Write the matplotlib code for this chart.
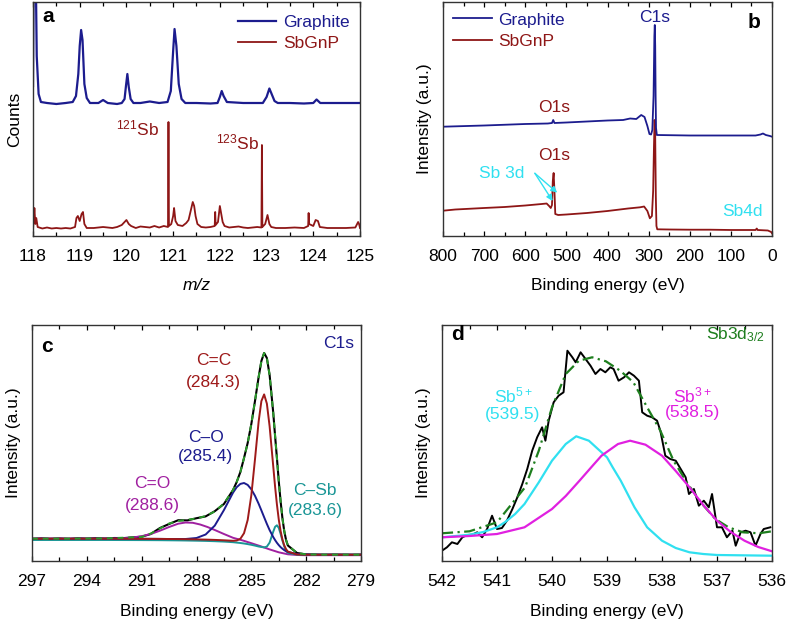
import numpy as np
import matplotlib
matplotlib.use('Agg')
import matplotlib.pyplot as plt
from matplotlib.ticker import MultipleLocator

plt.rcParams['font.family'] = ['Liberation Sans', 'DejaVu Sans']
plt.rcParams['mathtext.fontset'] = 'custom'
plt.rcParams['mathtext.rm'] = 'Liberation Sans'
plt.rcParams['mathtext.it'] = 'Liberation Sans:italic'
plt.rcParams['font.size'] = 12.5

NAVY = '#1c1c8e'
DRED = '#8e1616'
CYAN = '#30e0f0'
MAG = '#e020e0'
GREEN = '#1e7e1e'

# ---- panel a: mass spectra (m/z, counts in arbitrary px units)
graphite_mz = [118.0, 118.02, 118.05, 118.08, 118.12, 118.17, 118.3, 118.5, 118.7, 118.85,
               118.92, 118.97, 119.0, 119.03, 119.06, 119.1, 119.15, 119.22, 119.4, 119.5,
               119.6, 119.8, 119.9, 119.96, 119.99, 120.02, 120.05, 120.09, 120.15, 120.3,
               120.5, 120.7, 120.88, 120.95, 121.0, 121.03, 121.07, 121.12, 121.18, 121.26,
               121.5, 121.8, 121.95, 122.0, 122.04, 122.08, 122.15, 122.5, 122.92, 123.0,
               123.06, 123.1, 123.17, 123.24, 123.5, 123.8, 124.0, 124.07, 124.15, 124.5, 125.0]
graphite_counts = [150, 300, 300, 180, 142, 134, 133, 132, 133, 134,
                   140, 162, 190, 206, 196, 152, 138, 133, 133, 136,
                   133, 132, 133, 137, 150, 162, 149, 137, 133, 133,
                   134.5, 133, 134, 145, 185, 207, 190, 152, 137, 133,
                   133, 132.5, 133, 139, 145, 140, 134, 133, 133, 139,
                   147.5, 143, 135, 133, 133, 132.5, 133, 136.5, 133, 133, 133]
sbgnp_mz = [118.0, 118.02, 118.03, 118.05, 118.07, 118.1, 118.2, 118.3, 118.4, 118.5,
            118.6, 118.7, 118.8, 118.9, 118.93, 118.96, 119.0, 119.04, 119.07, 119.1,
            119.15, 119.3, 119.5, 119.7, 119.8, 119.9, 119.96, 120.0, 120.05, 120.1,
            120.2, 120.3, 120.4, 120.5, 120.6, 120.7, 120.8, 120.89, 120.9, 120.91,
            120.96, 121.0, 121.02, 121.05, 121.1, 121.2, 121.28, 121.33, 121.38, 121.42,
            121.45, 121.48, 121.52, 121.6, 121.7, 121.8, 121.89, 121.9, 121.91, 121.96,
            122.0, 122.03, 122.06, 122.1, 122.2, 122.3, 122.4, 122.5, 122.6, 122.7,
            122.8, 122.89, 122.9, 122.91, 122.97, 123.02, 123.06, 123.1, 123.2, 123.4,
            123.6, 123.8, 123.89, 123.9, 123.91, 124.0, 124.05, 124.1, 124.14, 124.3,
            124.5, 124.7, 124.9, 124.96, 124.98, 125.0]
sbgnp_counts = [6, 20, 28, 12, 18, 9, 7.5, 8.5, 7.5, 8,
                7.5, 8, 7.5, 9, 18, 20, 15, 22, 24, 12,
                8, 8, 9, 8, 9, 11, 14, 16, 12, 10,
                8, 9.5, 9, 8.5, 10, 8.5, 10, 9, 114, 10,
                12, 20, 28, 15, 11, 10, 13, 16, 26, 34,
                30, 20, 12, 9, 8.5, 9, 10, 24, 11, 14,
                30, 22, 14, 10, 8.5, 9, 9.5, 8.5, 8, 8.5,
                9, 8.5, 91, 9, 12, 21, 12, 9, 8, 8,
                8.5, 8, 10, 23, 12, 10, 16, 15, 9, 8,
                8, 8, 8.5, 14, 12, 8]

# ---- panel b: XPS survey
survey_g_be = [800, 700, 600, 545, 535, 532, 529, 500, 450, 400,
               362, 345, 330, 318, 310, 303, 298, 294, 291, 288,
               286, 285, 284, 283, 282, 280, 200, 100, 40, 28,
               22, 15, 5, 0]
survey_g_int = [109.3, 110.5, 112, 112.5, 113, 116, 113, 113.5, 114.5, 115.5,
                116, 117.5, 117, 121, 119, 110, 102, 101.5, 106, 140,
                200, 211, 190, 140, 108, 101, 100.5, 100.5, 100.5, 101.5,
                102.5, 101, 100, 99.3]
survey_s_be = [800, 770, 700, 650, 600, 560, 548, 542, 538, 535,
               533, 531, 529, 527, 520, 500, 450, 400, 350, 321,
               311, 303, 297, 292, 289, 287, 285.5, 284, 282.5, 281,
               279, 250, 200, 150, 100, 40, 37, 35, 10, 2, 0]
survey_s_int = [25.3, 26.5, 28, 29, 30.5, 32, 32.5, 30, 28, 31,
                55, 63, 45, 22, 21, 21.5, 23, 25, 27.5, 28.7,
                29.5, 25, 17.7, 20, 45, 90, 116, 100, 40, 10,
                6.7, 6.5, 6.3, 6.3, 6, 6, 7.5, 6, 5.5, 4, 2.7]

# ---- panel c: C1s
c1s_be = [297, 296.5, 296, 295.5, 295, 294.5, 294, 293.5, 293, 292.5, 292, 291.5, 291,
          290.5, 290, 289.5, 289, 288.5, 288, 287.5, 287, 286.5, 286,
          285.8, 285.6, 285.4, 285.2, 285.0, 284.8, 284.6, 284.45, 284.3, 284.15,
          284.0, 283.8, 283.7, 283.6, 283.5, 283.4, 283.3, 283.2, 283.1, 283.0,
          282.5, 282, 281.5, 281, 280.5, 280, 279.5, 279]
c1s_int = [22.0, 22.6, 22.1, 22.5, 22.0, 22.7, 22.3, 22.8, 22.4, 23.0, 22.9, 23.6, 24.3,
           27.0, 33.0, 37.0, 40.8, 40.6, 42.8, 44.6, 49.8, 57.0, 71,
           79, 89, 103, 118, 137, 160, 184, 200, 208, 203,
           186, 148, 125, 103, 80, 60, 43, 30, 21, 15.5,
           8.0, 6.6, 6.4, 6.2, 6.4, 6.3, 6.2, 6.3]
c1s_fit_be = [297, 295, 293, 291, 290.5, 290, 289.5, 289, 288.6, 288,
              287.5, 287, 286.5, 286, 285.8, 285.6, 285.4, 285.2, 285.0, 284.8,
              284.6, 284.45, 284.3, 284.15, 284.0, 283.8, 283.7, 283.6, 283.5, 283.4,
              283.3, 283.2, 283.1, 283.0, 282.5, 282, 281, 279]
c1s_fit = [22.3, 22.4, 22.6, 24.0, 27.5, 32.5, 37.5, 40.0, 41.0, 42.5,
           45.0, 49.5, 57.5, 71, 79, 89, 103, 118, 137, 160,
           184, 200, 208, 203, 186, 148, 125, 103, 80, 60,
           43, 30, 21, 15.5, 8.0, 6.6, 6.3, 6.3]
comp_be = [297, 295, 293, 291, 290, 289.5, 289, 288.6, 288, 287.5,
           287, 286.5, 286, 285.8, 285.6, 285.4, 285.2, 285.0, 284.8, 284.6,
           284.45, 284.3, 284.15, 284.0, 283.8, 283.7, 283.6, 283.5, 283.4, 283.3,
           283.2, 283.1, 283.0, 282.5, 282, 281, 279]
cc_int = [22.3, 22.3, 22.3, 22.2, 22.1, 22.0, 21.9, 21.8, 21.6, 21.4,
          21.1, 20.7, 20.2, 20.5, 22.2, 27.8, 41.0, 65.8, 101.7, 139.5,
          159.9, 166.6, 157.4, 134.7, 94.4, 74.3, 56.5, 41.6, 30.1, 21.6,
          15.7, 11.8, 9.4, 6.5, 6.3, 6.3, 6.3]
co_int = [22.3, 22.3, 22.3, 22.2, 22.1, 22.0, 22.0, 22.0, 23.0, 26.5,
          35.4, 50.9, 68.4, 73.8, 77.1, 78.0, 76.1, 71.7, 65.2, 57.2,
          50.6, 43.8, 37.1, 30.9, 23.9, 20.9, 18.2, 15.9, 13.9, 12.3,
          10.9, 9.8, 9.0, 7.0, 6.4, 6.3, 6.3]
csb_int = [21.0, 21.0, 21.0, 20.9, 20.8, 20.7, 20.6, 20.5, 20.3, 20.1,
           19.8, 19.4, 18.8, 18.4, 18.0, 17.5, 16.9, 16.2, 15.4, 14.5,
           14.0, 13.6, 14.4, 18.4, 29.4, 34.2, 35.7, 33.1, 27.3, 20.5,
           14.5, 10.4, 8.1, 6.4, 6.3, 6.3, 6.3]
cdo_be = [297, 295, 293, 292, 291.5, 291, 290.5, 290, 289.5, 289,
          288.6, 288.2, 287.8, 287.4, 287, 286.5, 286, 285.5, 285, 284.5,
          284, 283.5, 283, 282.5, 282, 281, 279]
cdo_int = [22.3, 22.3, 22.4, 22.8, 23.5, 24.8, 27, 30.3, 34, 37.3,
           38.5, 38.2, 36.5, 34, 31, 27, 23.2, 20.7, 17.8, 14.8,
           11.6, 8.7, 6.7, 6.0, 5.8, 5.8, 5.8]

# ---- panel d: Sb3d3/2
sb3d_be = [542.00, 541.91, 541.82, 541.72, 541.63, 541.54, 541.45, 541.36, 541.27, 541.18,
           541.09, 541.00, 540.91, 540.82, 540.72, 540.63, 540.54, 540.45, 540.36, 540.27,
           540.18, 540.12, 540.06, 539.97, 539.88, 539.79, 539.72, 539.63, 539.57, 539.48,
           539.39, 539.30, 539.21, 539.12, 539.03, 538.94, 538.88, 538.79, 538.69, 538.60,
           538.51, 538.42, 538.36, 538.27, 538.18, 538.09, 538.03, 537.94, 537.85, 537.75,
           537.66, 537.57, 537.51, 537.42, 537.33, 537.24, 537.15, 537.09, 537.00, 536.91,
           536.82, 536.72, 536.66, 536.57, 536.48, 536.39, 536.30, 536.21, 536.15, 536.03]
sb3d_int = [8.3, 11.7, 16.7, 15, 21.7, 24, 24.3, 26.7, 21.7, 30,
            43.3, 30, 31, 38.3, 50, 61.7, 75, 90, 108.3, 121.7,
            131.7, 118.3, 138.3, 156.7, 163.3, 166.7, 208.3, 201.7, 196.7, 206.7,
            200, 193.3, 185, 190, 186.7, 191.7, 190, 178.3, 181.7, 186.7,
            183.3, 178.3, 146.7, 143.3, 141.7, 138.3, 128.3, 103.3, 100, 98.3,
            90, 81.7, 65, 70, 53.3, 58.3, 51.7, 65, 31.7, 31.7,
            21.7, 28.3, 13.3, 26.7, 28.3, 26.7, 13.3, 25, 30, 31.7]
sb3d_fit_be = [542, 541.5, 541, 540.49, 540.24, 540, 539.75, 539.51, 539.27, 539.02,
               538.76, 538.52, 538.27, 538.03, 537.79, 537.53, 537.27, 537.03, 536.79, 536.53,
               536.24, 536]
sb3d_fit = [25.7, 27.7, 36.7, 71.7, 108.3, 151.7, 185, 198.3, 201.7, 197.7,
            188.3, 176.7, 151.7, 128.3, 98.3, 75, 55, 40, 31.7, 26.7,
            25.7, 27.7]
sb5_be = [542, 541.5, 541.25, 541, 540.85, 540.67, 540.5, 540.24, 540, 539.75,
          539.56, 539.33, 539, 538.9, 538.75, 538.5, 538.27, 538, 537.75, 537.5,
          537.25, 537, 536]
sb5_int = [21.7, 24.3, 27, 31.7, 37, 45, 55, 76.7, 98.3, 115,
           122.7, 118.3, 101.7, 92, 78.3, 51.7, 31.7, 18.3, 11, 6.7,
           5, 4, 3.3]
sb3_be = [542, 541.5, 541, 540.5, 540, 539.75, 539.5, 539.25, 539.1, 538.8,
          538.58, 538.3, 538, 537.75, 537.5, 537.25, 537, 536.75, 536.5, 536.25, 536]
sb3_int = [21.7, 23, 25, 31.7, 50, 63, 78.3, 94, 103.3, 115,
           118.3, 114.3, 103.3, 88, 71.7, 54, 38.3, 27, 18.3, 12, 7.7]


def style(ax, xlim, ylim, major, minor):
    ax.set_xlim(*xlim)
    ax.set_ylim(*ylim)
    ax.set_yticks([])
    ax.xaxis.set_major_locator(MultipleLocator(major))
    ax.xaxis.set_minor_locator(MultipleLocator(minor))
    ax.tick_params(axis='x', which='both', direction='in', top=True, pad=9.5, labelsize=12.5)
    ax.tick_params(axis='x', which='major', length=3.5, width=0.9)
    ax.tick_params(axis='x', which='minor', length=3.0, width=0.9)
    for s in ax.spines.values():
        s.set_linewidth(1.0)
        s.set_color('#333333')


fig = plt.figure(figsize=(7.88, 6.24), dpi=100)

# a
ax = fig.add_axes([33 / 788, 1 - 236 / 624, 327 / 788, 234 / 624])
ax.plot(graphite_mz, graphite_counts, color=NAVY, lw=1.6, label='Graphite')
ax.plot(sbgnp_mz, sbgnp_counts, color=DRED, lw=1.3, label='SbGnP')
style(ax, (118, 125), (0, 234), 1, 0.5)
ax.legend(loc='upper right', bbox_to_anchor=(0.99, 0.975), frameon=False, handlelength=2.2,
          handletextpad=0.4, labelspacing=0.35, borderaxespad=0.2, borderpad=0.2,
          labelcolor='linecolor')
ax.text(118.32, 220, 'a', fontsize=15, fontweight='bold', ha='center', va='center')
ax.text(120.7, 108, r'$^{121}$Sb', color=DRED, ha='right', va='center')
ax.text(122.84, 94, r'$^{123}$Sb', color=DRED, ha='right', va='center')
ax.set_xlabel('m/z', style='italic', labelpad=10)
ax.set_ylabel('Counts', labelpad=8)

# b
ax = fig.add_axes([443 / 788, 1 - 236 / 624, 329 / 788, 234 / 624])
ax.plot(survey_s_be, survey_s_int, color=DRED, lw=1.3, label='SbGnP')
ax.plot(survey_g_be, survey_g_int, color=NAVY, lw=1.3, label='Graphite')
style(ax, (800, 0), (0, 234), 100, 50)
h, l = ax.get_legend_handles_labels()
ax.legend(h[::-1], l[::-1], loc='upper left', frameon=False, handlelength=2.2,
          handletextpad=0.4, labelspacing=0.35, borderaxespad=0.4, borderpad=0.2,
          labelcolor='linecolor')
ax.text(284.4, 219, 'C1s', color=NAVY, ha='center', va='center')
ax.text(530, 128, 'O1s', color=DRED, ha='center', va='center')
ax.text(530, 81, 'O1s', color=DRED, ha='center', va='center')
ax.text(657, 63, 'Sb 3d', color=CYAN, ha='center', va='center')
for tip in [(533.5, 35), (522.3, 43.3)]:
    ax.annotate('', xy=tip, xytext=(576.6, 62.7),
                arrowprops=dict(arrowstyle='-|>', color=CYAN, lw=1.0, mutation_scale=9,
                                shrinkA=0, shrinkB=0))
ax.text(72, 25, 'Sb4d', color=CYAN, ha='center', va='center')
ax.text(43, 214, 'b', fontsize=15, fontweight='bold', ha='center', va='center')
ax.set_xlabel('Binding energy (eV)', labelpad=10)
ax.set_ylabel('Intensity (a.u.)', labelpad=8)

# c
ax = fig.add_axes([32 / 788, 1 - 561 / 624, 329 / 788, 236 / 624])
ax.plot(c1s_be, c1s_int, color='black', lw=1.5)
ax.plot(cdo_be, cdo_int, color='#a020a0', lw=1.4)
ax.plot(comp_be, csb_int, color='#1a9696', lw=1.4)
ax.plot(comp_be, co_int, color=NAVY, lw=1.4)
ax.plot(comp_be, cc_int, color='#9e1a1a', lw=1.4)
ax.plot(c1s_fit_be, c1s_fit, color='#2a9a2a', lw=1.4, ls=(0, (3, 2.5)))
style(ax, (297, 279), (0, 236), 3, 1.5)
ax.text(296.18, 214, 'c', fontsize=15, fontweight='bold', ha='center', va='center')
ax.text(280.2, 217.7, 'C1s', color=NAVY, ha='center', va='center')
ax.text(287.06, 200.7, 'C=C', color='#9e1a1a', ha='center', va='center')
ax.text(287.06, 179, '(284.3)', color='#9e1a1a', ha='center', va='center')
ax.text(287.5, 124, 'C\u2013O', color=NAVY, ha='center', va='center')
ax.text(287.5, 104, '(285.4)', color=NAVY, ha='center', va='center')
ax.text(290.43, 77.3, 'C=O', color='#a020a0', ha='center', va='center')
ax.text(290.43, 55.7, '(288.6)', color='#a020a0', ha='center', va='center')
ax.text(281.5, 70.7, 'C\u2013Sb', color='#1a9696', ha='center', va='center')
ax.text(281.5, 50.7, '(283.6)', color='#1a9696', ha='center', va='center')
ax.set_xlabel('Binding energy (eV)', labelpad=11)
ax.set_ylabel('Intensity (a.u.)', labelpad=8)

# d
ax = fig.add_axes([442 / 788, 1 - 561 / 624, 330 / 788, 236 / 624])
ax.plot(sb3d_be, sb3d_int, color='black', lw=1.4)
ax.plot(sb3d_fit_be, sb3d_fit, color=GREEN, lw=1.6, ls=(0, (5, 2, 1, 2)))
ax.plot(sb5_be, sb5_int, color=CYAN, lw=1.6)
ax.plot(sb3_be, sb3_int, color=MAG, lw=1.6)
style(ax, (542, 536), (-2, 234), 1, 0.5)
ax.text(541.71, 224, 'd', fontsize=15, fontweight='bold', ha='center', va='center')
ax.text(536.13, 220, r'Sb3d$_{3/2}$', color=GREEN, ha='right', va='baseline')
ax.text(540.71, 164, r'Sb$^{5+}$', color=CYAN, ha='center', va='center')
ax.text(540.71, 145, '(539.5)', color=CYAN, ha='center', va='center')
ax.text(537.44, 164, r'Sb$^{3+}$', color=MAG, ha='center', va='center')
ax.text(537.44, 147, '(538.5)', color=MAG, ha='center', va='center')
ax.set_xlabel('Binding energy (eV)', labelpad=11)
ax.set_ylabel('Intensity (a.u.)', labelpad=8)

fig.savefig('out.png', dpi=100)
